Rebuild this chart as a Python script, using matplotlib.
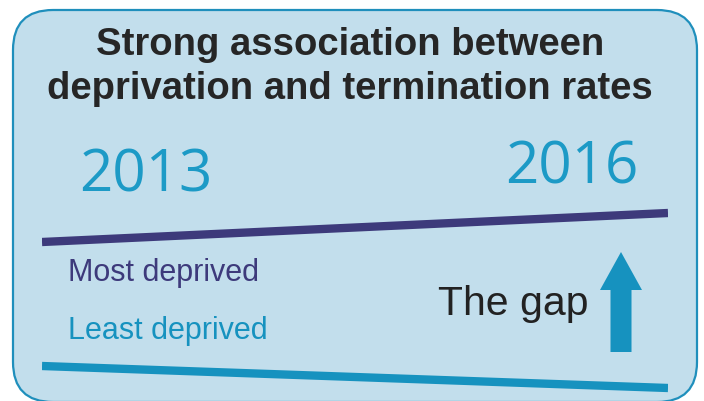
import matplotlib
matplotlib.use('Agg')
import matplotlib.pyplot as plt
from matplotlib.patches import FancyBboxPatch, FancyArrow

# ── data (schematic termination-rate index) ──
years = [2013, 2016]
most_deprived = [7.9, 9.35]
least_deprived = [1.7, 0.6]

TITLE = 'Strong association between\ndeprivation and termination rates'
PURPLE = '#3d3a7b'
TEAL = '#1692bf'
YEAR_BLUE = '#1c9ac6'
BOX_FILL = '#c2deec'
BOX_EDGE = '#1f8fbc'

W, H = 704, 401
fig = plt.figure(figsize=(W / 100, H / 100), dpi=100)
fig.patch.set_facecolor('white')

# background axes in pixel units
bg = fig.add_axes([0, 0, 1, 1])
bg.set_xlim(0, W)
bg.set_ylim(H, 0)
bg.axis('off')

box = FancyBboxPatch((13, 10), 684, 392,
                     boxstyle='round,pad=0,rounding_size=40',
                     fc=BOX_FILL, ec=BOX_EDGE, lw=1.6)
bg.add_patch(box)

bg.text(350, 67, TITLE, ha='center', va='center', fontsize=27.5,
        fontweight='bold', color='#262626', family='Liberation Sans',
        linespacing=1.3)

bg.text(146, 176, '2013', ha='center', va='center', fontsize=42,
        color=YEAR_BLUE, family='Open Sans')
bg.text(572, 168, '2016', ha='center', va='center', fontsize=42,
        color=YEAR_BLUE, family='Open Sans')

bg.text(68, 281, 'Most deprived', ha='left', va='baseline', fontsize=22,
        color=PURPLE, family='Liberation Sans')
bg.text(68, 339, 'Least deprived', ha='left', va='baseline', fontsize=22,
        color=TEAL, family='Liberation Sans')

bg.text(513, 315, 'The gap', ha='center', va='baseline', fontsize=29.5,
        color='#222222', family='Liberation Sans')

bg.add_patch(FancyArrow(621, 352, 0, -100, width=21, head_width=42,
                        head_length=38, length_includes_head=True,
                        fc=TEAL, ec='none'))

# line axes: years on x, rate index on y
ax = fig.add_axes([42 / W, 1 / H, 626 / W, 200 / H])
ax.set_xlim(years[0], years[-1])
ax.set_ylim(0, 10)
ax.axis('off')
ax.plot(years, most_deprived, color=PURPLE, lw=6, solid_capstyle='butt')
ax.plot(years, least_deprived, color=TEAL, lw=6, solid_capstyle='butt')

fig.savefig('out.png', dpi=100)
